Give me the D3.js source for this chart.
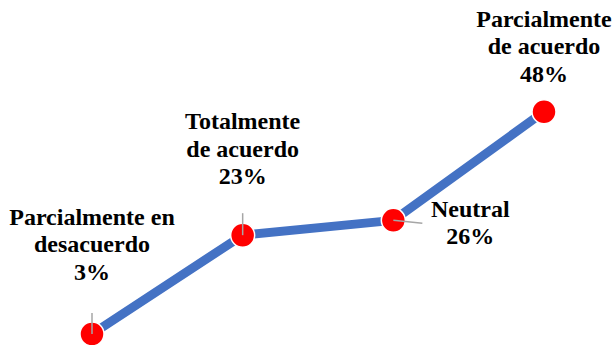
<!DOCTYPE html>
<html>
<head>
<meta charset="utf-8">
<script src="https://cdn.jsdelivr.net/npm/d3@7"></script>
<style>
  html, body { margin: 0; padding: 0; background: #ffffff; }
  svg { display: block; }
  .lbl { font-family: "Liberation Serif", "Times New Roman", Times, serif; font-weight: 700; font-size: 24px; fill: #000; }
</style>
</head>
<body>
<svg id="chart" width="613" height="345"></svg>
<script>
// Response categories (each label is split over lines) and their shares in percent
const categories = ["Parcialmente en desacuerdo", "Totalmente de acuerdo", "Neutral", "Parcialmente de acuerdo"];
const labelLines = [
  ["Parcialmente en", "desacuerdo"],
  ["Totalmente", "de acuerdo"],
  ["Neutral"],
  ["Parcialmente", "de acuerdo"]
];
const values = [3, 23, 26, 48];

const svg = d3.select("#chart");

const x = d3.scalePoint().domain(categories).range([92, 544]);
const y = d3.scaleLinear().domain([0, 50]).range([348.8, 101.8]);

const pts = categories.map((c, i) => ({ cat: c, v: values[i], lines: labelLines[i], x: x(c), y: y(values[i]) }));

// Data label placement: text anchor offset from the point and leader line end
const labelLayout = [
  { dx: 0,  dy: -54, leader: [0, -21] },
  { dx: 0,  dy: -51, leader: [0, -22] },
  { dx: 77, dy: 24,  leader: [29, 3] },
  { dx: 0,  dy: -30, leader: null }
];
const lineH = 27.5;

// Series line
svg.append("path")
  .datum(pts)
  .attr("fill", "none")
  .attr("stroke", "#4472C4")
  .attr("stroke-width", 9)
  .attr("stroke-linejoin", "round")
  .attr("d", d3.line().x(d => d.x).y(d => d.y));

// Markers
svg.selectAll("circle.mk")
  .data(pts)
  .join("circle")
  .attr("class", "mk")
  .attr("cx", d => d.x)
  .attr("cy", d => d.y)
  .attr("r", 12)
  .attr("fill", "#FF0000")
  .attr("stroke", "#ffffff")
  .attr("stroke-width", 1.5);

// Leader lines
pts.forEach((d, i) => {
  const L = labelLayout[i].leader;
  if (!L) return;
  svg.append("line")
    .attr("x1", d.x).attr("y1", d.y)
    .attr("x2", d.x + L[0]).attr("y2", d.y + L[1])
    .attr("stroke", "#A6A6A6")
    .attr("stroke-width", 1.5);
});

// Data labels: category lines followed by the percentage
pts.forEach((d, i) => {
  const lay = labelLayout[i];
  const all = d.lines.concat([d3.format("d")(d.v) + "%"]);
  const lastY = d.y + lay.dy;
  const t = svg.append("text")
    .attr("class", "lbl")
    .attr("text-anchor", "middle");
  all.forEach((s, k) => {
    t.append("tspan")
      .attr("x", d.x + lay.dx)
      .attr("y", lastY - (all.length - 1 - k) * lineH)
      .text(s);
  });
});
</script>
</body>
</html>
